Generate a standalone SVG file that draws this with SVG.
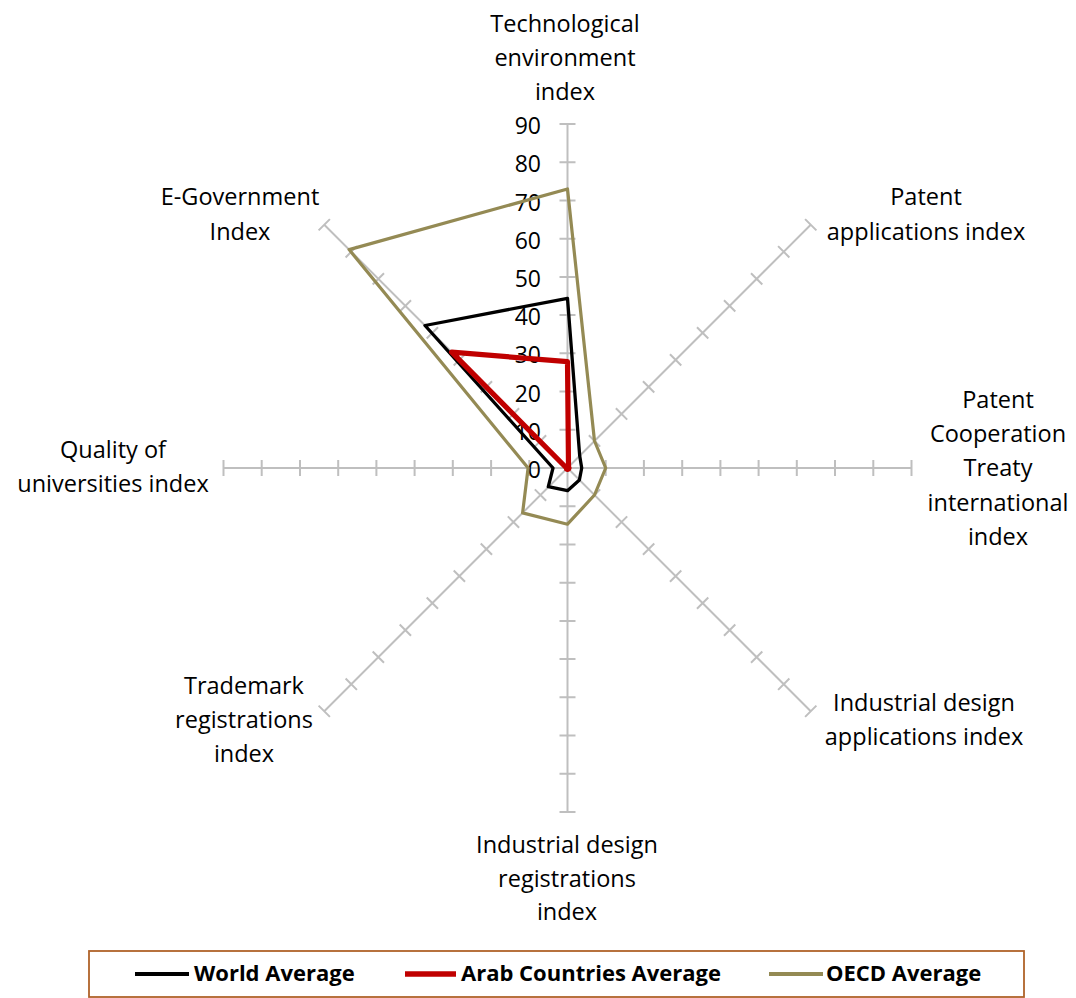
<svg xmlns="http://www.w3.org/2000/svg" xmlns:xlink="http://www.w3.org/1999/xlink" width="1076" height="998" viewBox="0 0 1076 998">
<style>
.lbl{font-family:"Open Sans","Liberation Sans",sans-serif;font-size:23.5px;fill:#000;text-anchor:middle}
.tick{font-family:"Open Sans","Liberation Sans",sans-serif;font-size:23px;fill:#000;text-anchor:end}
.leg{font-family:"Open Sans","Liberation Sans",sans-serif;font-size:22px;font-weight:bold;fill:#000}
.axis{fill:none;stroke:#bfbfbf;stroke-width:2}
.s{fill:none;stroke-linejoin:round;stroke-linecap:round}
</style>
<defs>
<g id="ax">
<path class="axis" d="M567.5 468V124M559.5 429.8H575.5M559.5 391.6H575.5M559.5 353.3H575.5M559.5 315.1H575.5M559.5 276.9H575.5M559.5 238.7H575.5M559.5 200.5H575.5M559.5 162.2H575.5M559.5 124H575.5"/>
</g>
</defs>
<rect width="1076" height="998" fill="#fff"/>
<g id="axes">
<use xlink:href="#ax"/>
<use xlink:href="#ax" transform="rotate(45 567.5 468)"/>
<use xlink:href="#ax" transform="rotate(90 567.5 468)"/>
<use xlink:href="#ax" transform="rotate(135 567.5 468)"/>
<use xlink:href="#ax" transform="rotate(180 567.5 468)"/>
<use xlink:href="#ax" transform="rotate(225 567.5 468)"/>
<use xlink:href="#ax" transform="rotate(270 567.5 468)"/>
<use xlink:href="#ax" transform="rotate(315 567.5 468)"/>
</g>
<g id="tick-labels">
<text class="tick" x="541" y="478">0</text>
<text class="tick" x="541" y="440">10</text>
<text class="tick" x="541" y="402">20</text>
<text class="tick" x="541" y="363">30</text>
<text class="tick" x="541" y="325">40</text>
<text class="tick" x="541" y="287">50</text>
<text class="tick" x="541" y="249">60</text>
<text class="tick" x="541" y="211">70</text>
<text class="tick" x="541" y="172">80</text>
<text class="tick" x="541" y="134">90</text>
</g>
<g id="series">
<polygon id="oecd" class="s" stroke="#948a54" stroke-width="3.2" points="567.5,189 594.5,441 605.7,468 594.5,495 567.5,524.2 522.6,512.9 528.1,468 349.1,249.6"/>
<polygon id="world" class="s" stroke="#000" stroke-width="3.3" points="567.5,298.3 579.7,455.8 581.7,468 579.4,480 567.5,490.7 548.3,486.7 553,468 425,325.5"/>
<polygon id="arab" class="s" stroke="#c00000" stroke-width="5.2" points="567.5,361.7 568.5,467 569,468 568.5,469 567.5,469.5 566.5,469 566.5,468 451.7,352.2"/>
</g>
<g id="n-tech"><text class="lbl" x="565" y="32">Technological</text><text class="lbl" x="565" y="66">environment</text><text class="lbl" x="565" y="100">index</text></g>
<g id="n-patent"><text class="lbl" x="926" y="205">Patent</text><text class="lbl" x="926" y="240">applications index</text></g>
<g id="n-pct"><text class="lbl" x="998" y="408">Patent</text><text class="lbl" x="998" y="442">Cooperation</text><text class="lbl" x="998" y="476">Treaty</text><text class="lbl" x="998" y="511">international</text><text class="lbl" x="998" y="545">index</text></g>
<g id="n-idapp"><text class="lbl" x="924" y="711">Industrial design</text><text class="lbl" x="924" y="745">applications index</text></g>
<g id="n-idreg"><text class="lbl" x="567" y="853">Industrial design</text><text class="lbl" x="567" y="887">registrations</text><text class="lbl" x="567" y="920">index</text></g>
<g id="n-trade"><text class="lbl" x="244" y="694">Trademark</text><text class="lbl" x="244" y="728">registrations</text><text class="lbl" x="244" y="762">index</text></g>
<g id="n-univ"><text class="lbl" x="113" y="458">Quality of</text><text class="lbl" x="113" y="492">universities index</text></g>
<g id="n-egov"><text class="lbl" x="240" y="205">E-Government</text><text class="lbl" x="240" y="240">Index</text></g>
<g id="legend">
<rect x="89" y="951" width="935" height="46" fill="#fff" stroke="#b0632a" stroke-width="1.8"/>
<line x1="135" y1="974" x2="189" y2="974" stroke="#000" stroke-width="4"/>
<text class="leg" x="194" y="981">World Average</text>
<line x1="405" y1="974" x2="456" y2="974" stroke="#c00000" stroke-width="5.5"/>
<text class="leg" x="461" y="981">Arab Countries Average</text>
<line x1="769" y1="974" x2="823" y2="974" stroke="#948a54" stroke-width="4"/>
<text class="leg" x="826" y="981">OECD Average</text>
</g>
</svg>
